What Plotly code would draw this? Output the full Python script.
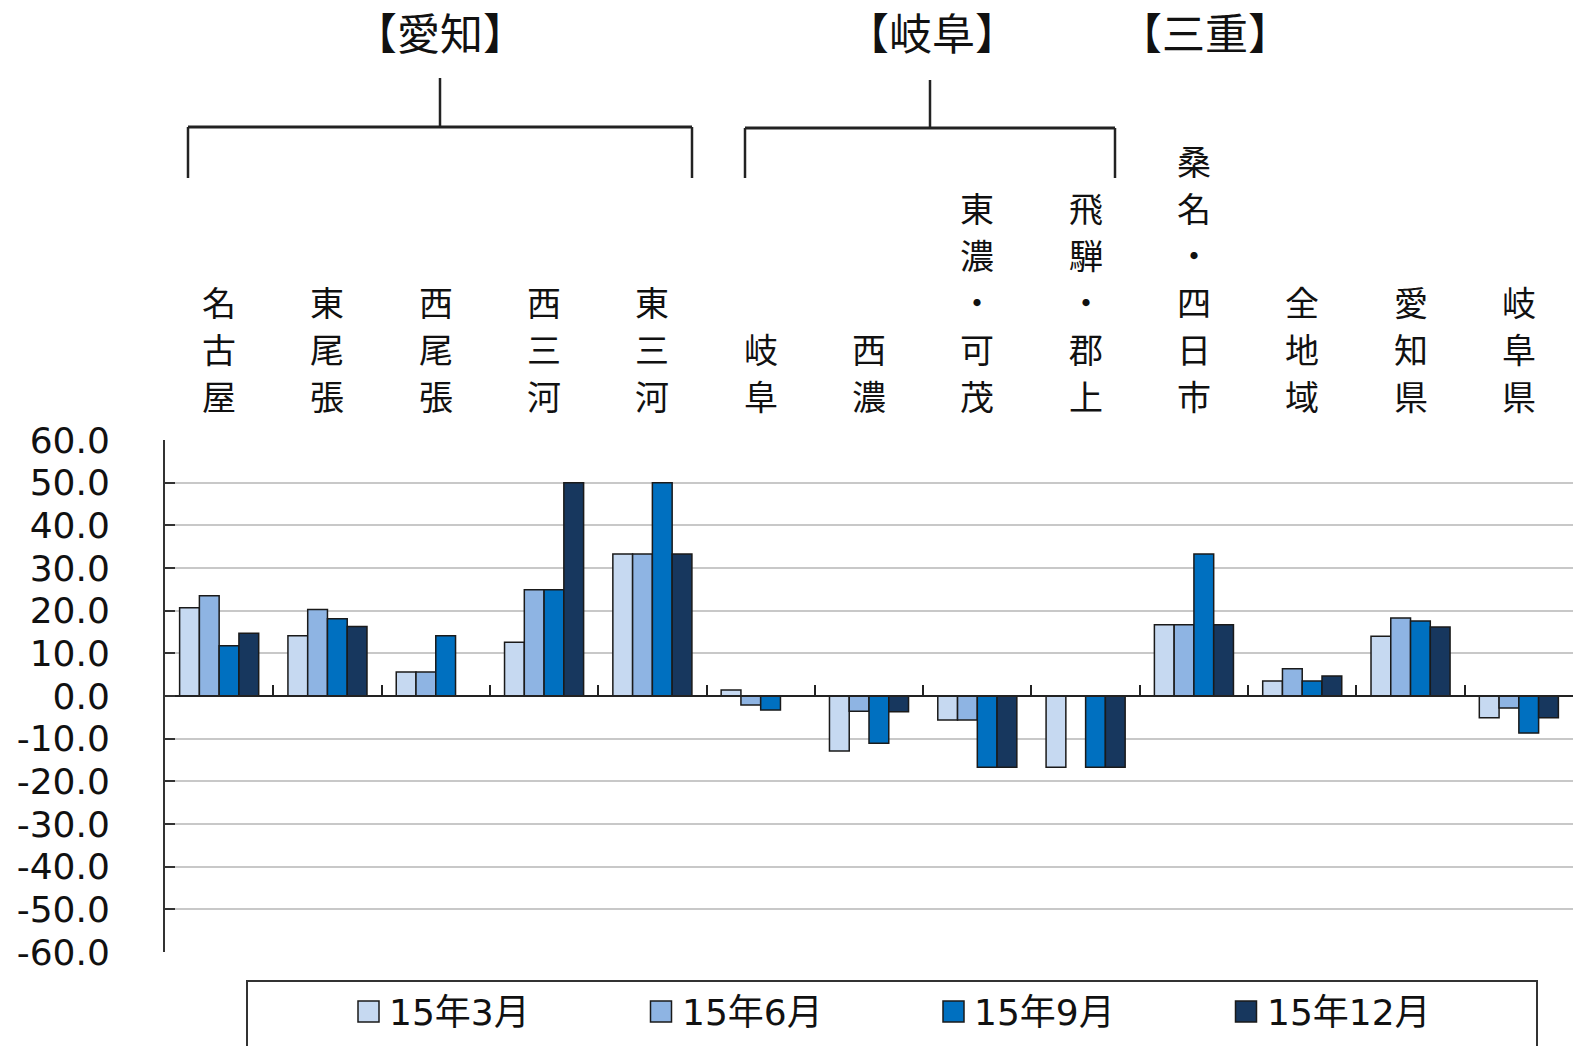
import plotly.graph_objects as go

categories = ["名古屋", "東尾張", "西尾張", "西三河", "東三河", "岐阜", "西濃",
              "東濃・可茂", "飛騨・郡上", "桑名・四日市", "全地域", "愛知県", "岐阜県"]
series_names = ["15年3月", "15年6月", "15年9月", "15年12月"]
v_mar = [20.7, 14.1, 5.6, 12.6, 33.3, 1.4, -12.9, -5.6, -16.7, 16.7, 3.5, 14.0, -5.1]
v_jun = [23.5, 20.3, 5.6, 24.9, 33.3, -2.1, -3.6, -5.6, 0.0, 16.7, 6.4, 18.3, -2.8]
v_sep = [11.8, 18.1, 14.1, 24.9, 50.0, -3.3, -11.1, -16.7, -16.7, 33.3, 3.5, 17.6, -8.7]
v_dec = [14.7, 16.3, 0.0, 50.0, 33.3, 0.0, -3.7, -16.7, -16.7, 16.7, 4.7, 16.2, -5.1]
y_ticks = [60, 50, 40, 30, 20, 10, 0, -10, -20, -30, -40, -50, -60]
y_ticktext = ["%.1f" % v for v in y_ticks]
groups = ["【愛知】", "【岐阜】", "【三重】"]

colors = ["#C6D9F1", "#8EB4E3", "#0070C0", "#17375E"]
FONT = "DejaVu Sans, Noto Sans CJK JP"

W, H = 1573, 1046
L, R, T, B = 165, 0, 440, 94
PW, PH = W - L - R, H - T - B


def px(x):
    return (x - L) / PW


def py(y):
    return (H - B - y) / PH


fig = go.Figure()
for name, vals, c in zip(series_names, [v_mar, v_jun, v_sep, v_dec], colors):
    fig.add_trace(go.Bar(x=categories, y=vals, name=name, marker_color=c,
                         marker_line_color="#1a1a1a", marker_line_width=1.5,
                         showlegend=False))

annotations = []
shapes = []
# vertical category labels
for i, lab in enumerate(categories):
    n = len(lab)
    for k, ch in enumerate(lab):
        ypix = 398 - 47 * (n - 1 - k)
        annotations.append(dict(x=lab, xref="x", y=py(ypix), yref="paper",
                                text=ch, showarrow=False, xanchor="center",
                                yanchor="middle",
                                font=dict(size=34, family=FONT, color="#111")))

# group headers
for g, xc in zip(groups, [440, 932, 1205]):
    annotations.append(dict(x=px(xc), xref="paper", y=py(35), yref="paper",
                            text=g, showarrow=False, xanchor="center",
                            yanchor="middle",
                            font=dict(size=43, family=FONT, color="#111")))

# brackets
line = dict(color="#222", width=2.5)
for x0, x1, xm, ytop, ybar in [(188, 692, 440, 78, 127), (745, 1115, 930, 80, 128)]:
    shapes.append(dict(type="line", xref="paper", yref="paper",
                       x0=px(x0), x1=px(x1), y0=py(ybar), y1=py(ybar), line=dict(color="#222", width=3)))
    shapes.append(dict(type="line", xref="paper", yref="paper",
                       x0=px(x0), x1=px(x0), y0=py(ybar), y1=py(178), line=line))
    shapes.append(dict(type="line", xref="paper", yref="paper",
                       x0=px(x1), x1=px(x1), y0=py(ybar), y1=py(178), line=line))
    shapes.append(dict(type="line", xref="paper", yref="paper",
                       x0=px(xm), x1=px(xm), y0=py(ytop), y1=py(ybar), line=line))

# legend box
shapes.append(dict(type="rect", xref="paper", yref="paper",
                   x0=px(247), x1=px(1537), y0=py(981), y1=py(1060),
                   line=dict(color="#333", width=2), fillcolor="rgba(0,0,0,0)"))
for j, (name, c) in enumerate(zip(series_names, colors)):
    sx = 358 + 292.5 * j
    shapes.append(dict(type="rect", xref="paper", yref="paper",
                       x0=px(sx), x1=px(sx + 21), y0=py(1001), y1=py(1022),
                       fillcolor=c, line=dict(color="#1a1a1a", width=1.5)))
    annotations.append(dict(x=px(sx + 29), xref="paper", y=py(1012), yref="paper",
                            text=name, showarrow=False, xanchor="left",
                            yanchor="middle",
                            font=dict(size=36, family=FONT, color="#111")))

fig.update_layout(
    width=W, height=H,
    margin=dict(l=L, r=R, t=T, b=B, autoexpand=False),
    paper_bgcolor="white", plot_bgcolor="white",
    barmode="group", bargap=0.27, bargroupgap=0,
    annotations=annotations, shapes=shapes,
    font=dict(family=FONT, color="#111"),
    xaxis=dict(type="category", range=[-0.5, 12.5], showticklabels=False,
               anchor="free", position=0.5, showline=True, linecolor="#222",
               linewidth=2, ticks="inside", tickson="boundaries", ticklen=10,
               tickwidth=2, tickcolor="#222", showgrid=False, zeroline=False),
    yaxis=dict(range=[-60, 60], tickvals=y_ticks, ticktext=y_ticktext,
               showline=True, linecolor="#333", linewidth=2,
               ticks="inside", ticklen=10, tickwidth=2, tickcolor="#333",
               gridcolor="#C8C8C8", gridwidth=2, zeroline=False,
               tickfont=dict(size=36, family=FONT, color="#111"),
               ticklabelstandoff=46),
)

fig.write_html("out.html", config={"displayModeBar": False},
               post_script="document.body.style.margin='0';document.body.style.overflow='hidden';")
